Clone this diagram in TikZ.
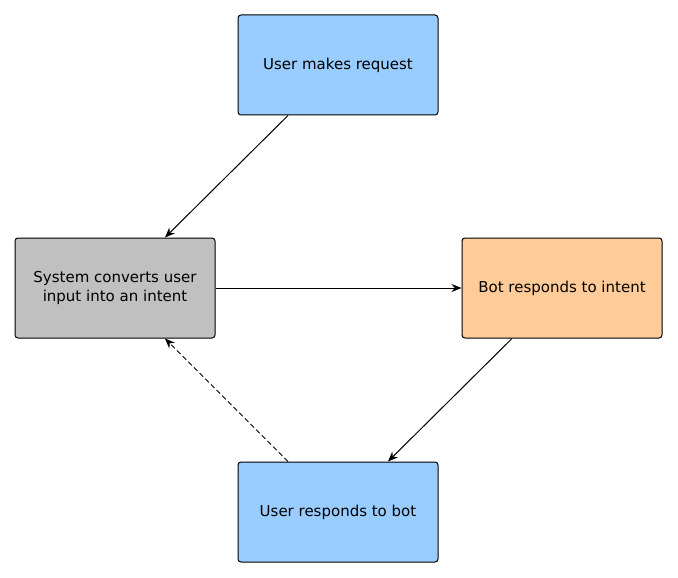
\documentclass[tikz,border=0pt]{standalone}
\usepackage{fontspec}
\setmainfont{DejaVu Sans}
\usepackage{xcolor}
\usetikzlibrary{arrows.meta}

\definecolor{userblue}{HTML}{99CCFF}
\definecolor{sysgray}{HTML}{C0C0C0}
\definecolor{botorange}{HTML}{FFCC99}

\begin{document}
\begin{tikzpicture}[x=1pt,y=-1pt,line width=1pt,
    stepbox/.style={draw, rounded corners=3pt, minimum width=200pt, minimum height=100pt,
      align=center, font=\fontsize{15}{19}\selectfont},
    flow/.style={-{Stealth[length=10pt,width=8pt]}}]
            \useasboundingbox (0,0) rectangle (678,578);
            \node[stepbox, fill=userblue] (request) at (338,65) {User makes request};
            \node[stepbox, fill=sysgray] (intent) at (115,288) {System converts user\\input into an intent};
            \node[stepbox, fill=botorange] (bot) at (562,288) {Bot responds to intent};
            \node[stepbox, fill=userblue] (reply) at (338,512) {User responds to bot};
            \draw[flow] (request.south -| 288,0) -- (intent.north -| 165,0);
            \draw[flow] (intent) -- (bot);
            \draw[flow] (bot.south -| 512,0) -- (reply.north -| 388,0);
            \draw[flow, dash pattern=on 5pt off 3pt] (reply.north -| 288,0) -- (intent.south -| 165,0);
        \end{tikzpicture}
\end{document}
